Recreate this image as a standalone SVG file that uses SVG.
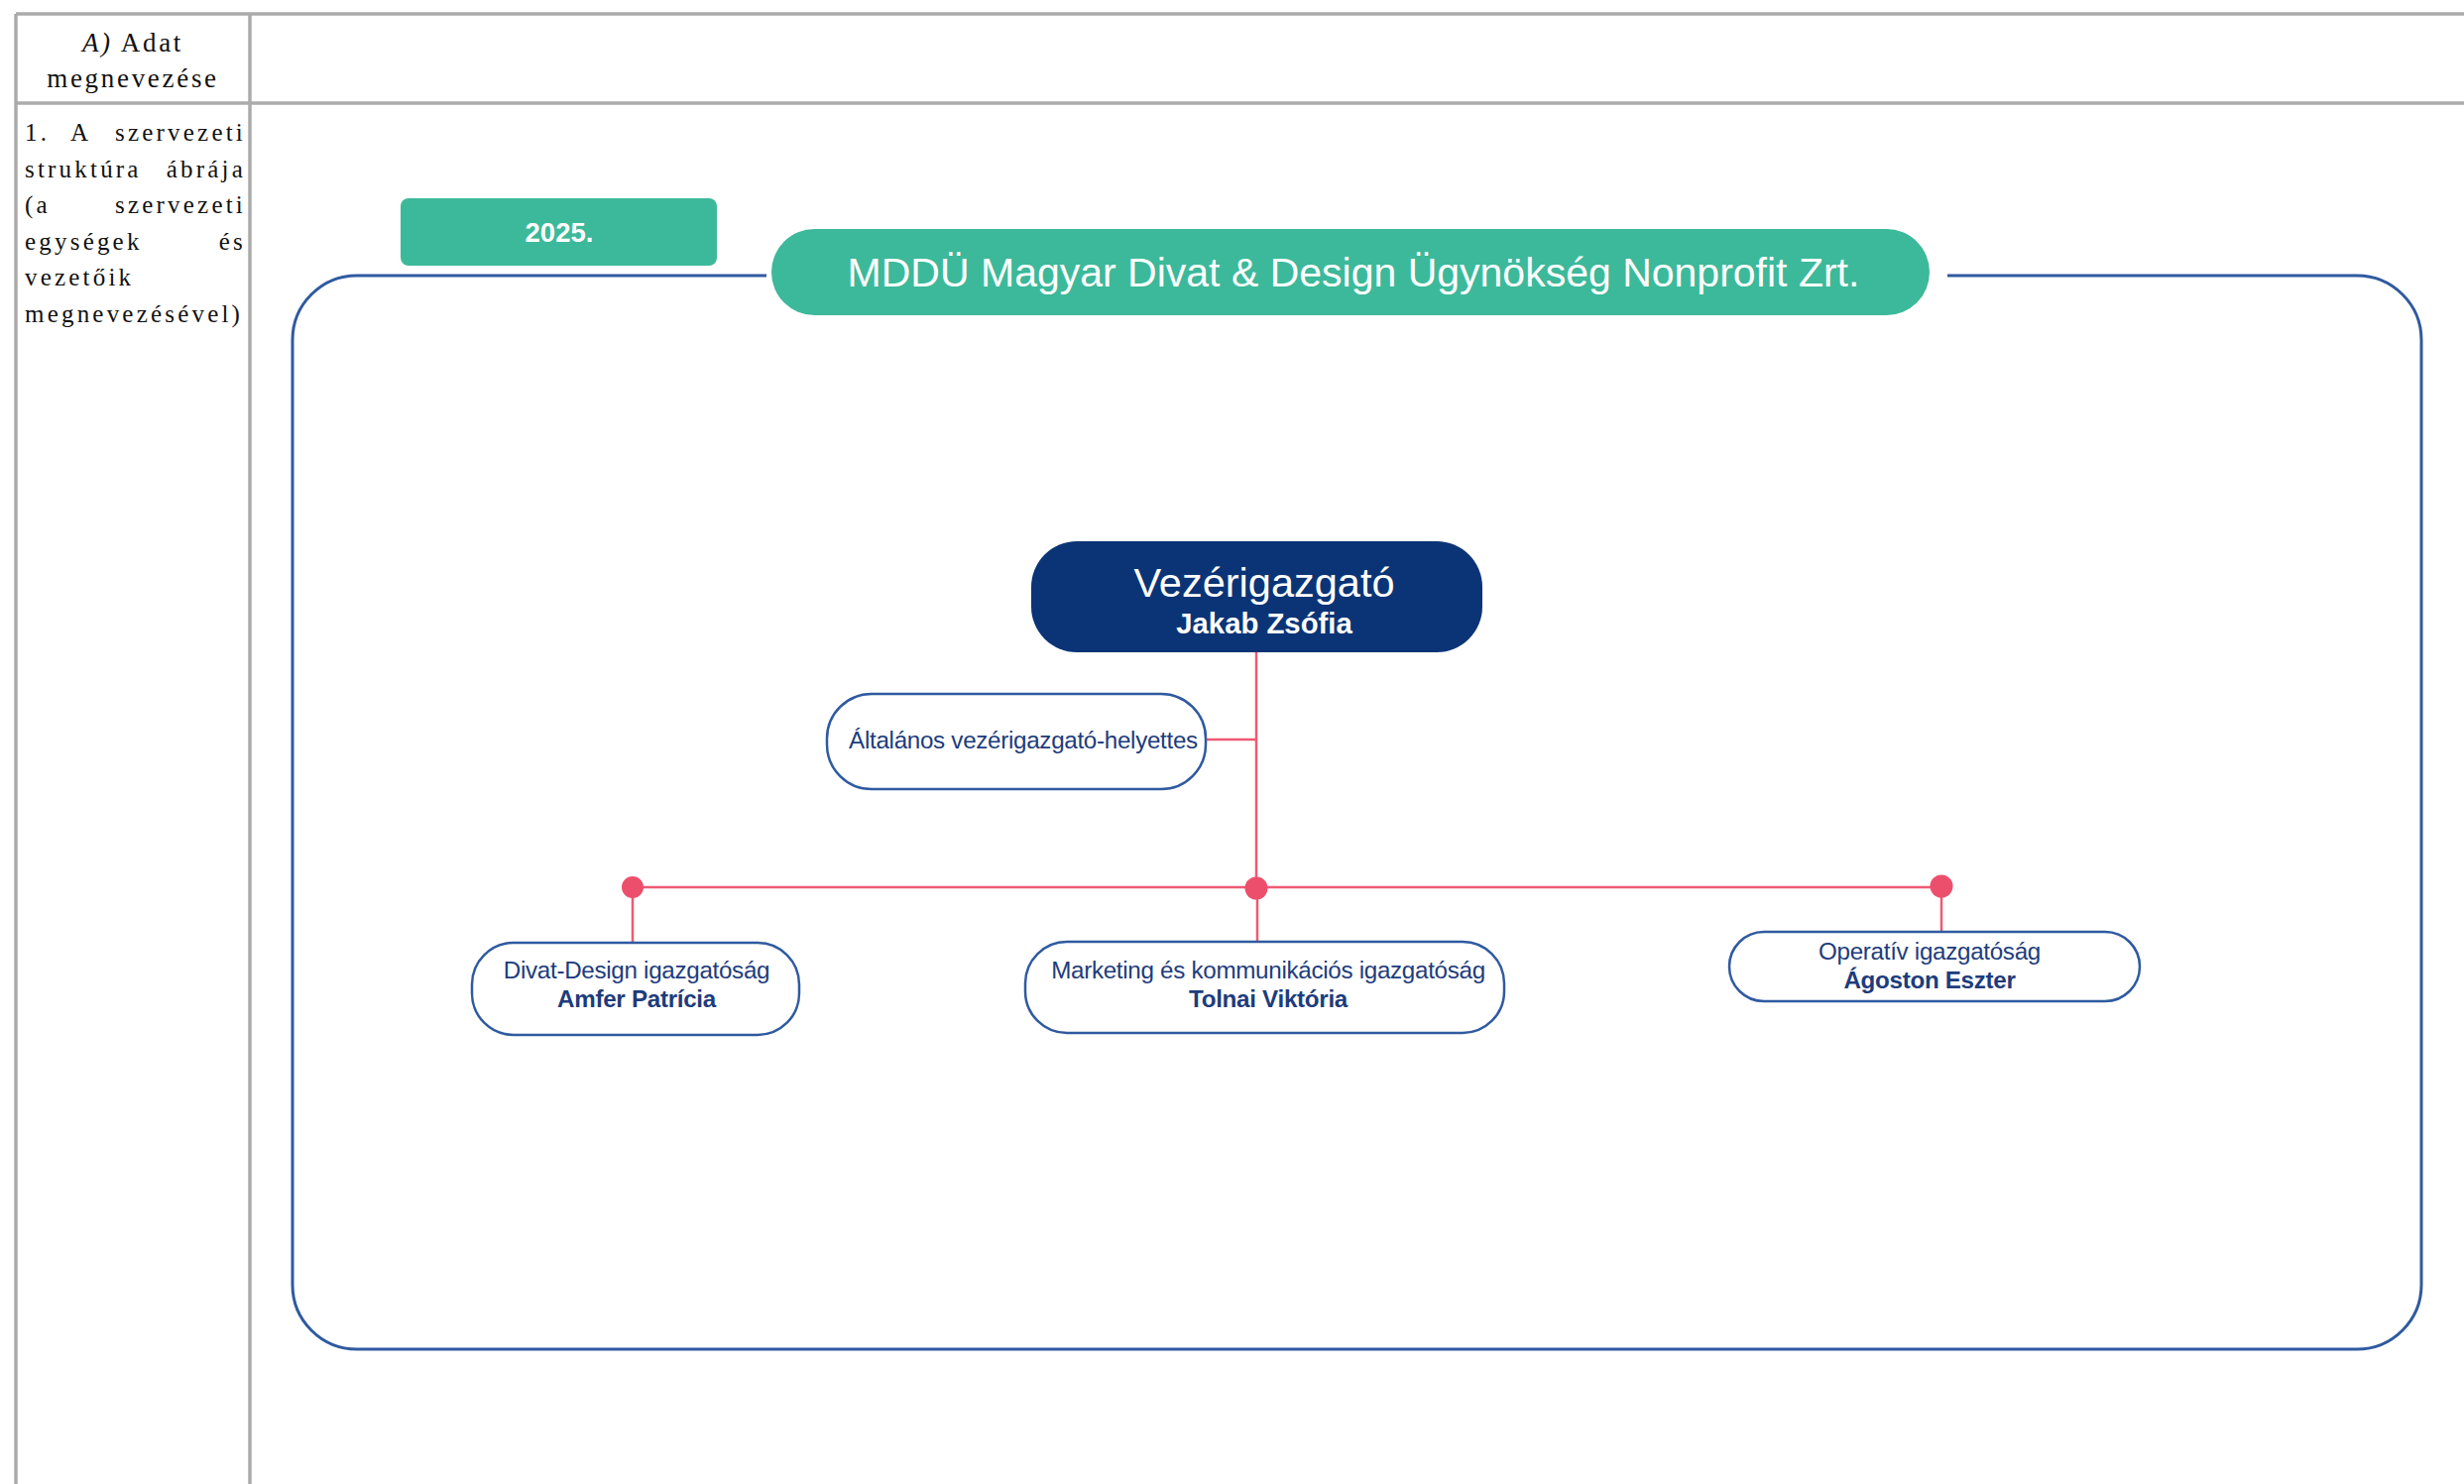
<svg xmlns="http://www.w3.org/2000/svg" width="2485" height="1497" viewBox="0 0 2485 1497">
<style>
.grid{stroke:#ababab;stroke-width:3.5;fill:none}
.hdr{font-family:"Liberation Serif",serif;font-size:27px;letter-spacing:2.7px;fill:#111}
.cell{font-family:"Liberation Serif",serif;font-size:25px;letter-spacing:3.2px;fill:#111}
.teal{fill:#3cb99a}
.frame{fill:none;stroke:#2f5aa0;stroke-width:3}
.unit{fill:#fff;stroke:#2f5aa0;stroke-width:2.5}
.conn{stroke:#ef5a74;stroke-width:2.5;fill:none}
.dot{fill:#ec4f6c}
.sans{font-family:"Liberation Sans",Arial,sans-serif}
.ut{font-family:"Liberation Sans",Arial,sans-serif;font-size:24.2px;fill:#1d3c7c;text-anchor:middle;letter-spacing:-0.3px}
.ub{font-family:"Liberation Sans",Arial,sans-serif;font-size:24.2px;fill:#1d3c7c;text-anchor:middle;font-weight:bold;letter-spacing:-0.3px}
</style>
<rect width="2485" height="1497" fill="#fff"/>
<g id="table">
<line class="grid" x1="16" y1="14" x2="2485" y2="14"/>
<line class="grid" x1="16" y1="104" x2="2485" y2="104"/>
<line class="grid" x1="16" y1="14" x2="16" y2="1497"/>
<line class="grid" x1="252" y1="14" x2="252" y2="1497"/>
<text class="hdr" x="134" y="52" text-anchor="middle"><tspan font-style="italic">A)</tspan> Adat</text>
<text class="hdr" x="134" y="88" text-anchor="middle">megnevezése</text>
<text class="cell" x="25" y="142">1.</text>
<text class="cell" x="71" y="142">A</text>
<text class="cell" x="248" y="142" text-anchor="end">szervezeti</text>
<text class="cell" x="25" y="178.6">struktúra</text>
<text class="cell" x="248" y="178.6" text-anchor="end">ábrája</text>
<text class="cell" x="25" y="215.2">(a</text>
<text class="cell" x="248" y="215.2" text-anchor="end">szervezeti</text>
<text class="cell" x="25" y="251.8">egységek</text>
<text class="cell" x="248" y="251.8" text-anchor="end">és</text>
<text class="cell" x="25" y="288.4">vezetőik</text>
<text class="cell" x="25" y="325">megnevezésével)</text>
</g>
<g id="frame">
<path class="frame" d="M773 278 H360 A65 65 0 0 0 295 343 V1296 A65 65 0 0 0 360 1361 H2377 A65 65 0 0 0 2442 1296 V343 A65 65 0 0 0 2377 278 H1964"/>
</g>
<g id="year">
<rect class="teal" x="404" y="200" width="319" height="68" rx="8"/>
<text class="sans" x="564" y="244" font-size="27.5" font-weight="bold" fill="#fff" text-anchor="middle">2025.</text>
</g>
<g id="title">
<rect class="teal" x="778" y="231" width="1168" height="87" rx="43.5"/>
<text class="sans" x="1365" y="289" font-size="41" fill="#fff" text-anchor="middle">MDDÜ Magyar Divat &amp; Design Ügynökség Nonprofit Zrt.</text>
</g>
<g id="connectors">
<line class="conn" x1="1267" y1="658" x2="1267" y2="895"/>
<line class="conn" x1="1216" y1="746" x2="1267" y2="746"/>
<line class="conn" x1="638" y1="895" x2="1958" y2="895"/>
<line class="conn" x1="638" y1="895" x2="638" y2="951"/>
<line class="conn" x1="1268" y1="895" x2="1268" y2="949"/>
<line class="conn" x1="1958" y1="895" x2="1958" y2="940"/>
<circle class="dot" cx="638" cy="895" r="11"/>
<circle class="dot" cx="1267" cy="896" r="11.5"/>
<circle class="dot" cx="1958" cy="894" r="11.5"/>
</g>
<g id="ceo">
<rect x="1040" y="546" width="455" height="112" rx="46" fill="#0b3476"/>
<text class="sans" x="1275" y="602" font-size="41.5" fill="#fff" text-anchor="middle">Vezérigazgató</text>
<text class="sans" x="1275" y="639" font-size="29.3" font-weight="bold" fill="#fff" text-anchor="middle">Jakab Zsófia</text>
</g>
<g id="deputy">
<rect class="unit" x="834" y="700" width="382" height="96" rx="45"/>
<text class="ut" x="1032" y="755">Általános vezérigazgató-helyettes</text>
</g>
<g id="divat">
<rect class="unit" x="476" y="951" width="330" height="93" rx="42"/>
<text class="ut" x="642" y="987">Divat-Design igazgatóság</text>
<text class="ub" x="642" y="1016">Amfer Patrícia</text>
</g>
<g id="marketing">
<rect class="unit" x="1034" y="950" width="483" height="92" rx="42"/>
<text class="ut" x="1279" y="987">Marketing és kommunikációs igazgatóság</text>
<text class="ub" x="1279" y="1016">Tolnai Viktória</text>
</g>
<g id="operativ">
<rect class="unit" x="1744" y="940" width="414" height="70" rx="35"/>
<text class="ut" x="1946" y="968">Operatív igazgatóság</text>
<text class="ub" x="1946" y="997">Ágoston Eszter</text>
</g>
</svg>
